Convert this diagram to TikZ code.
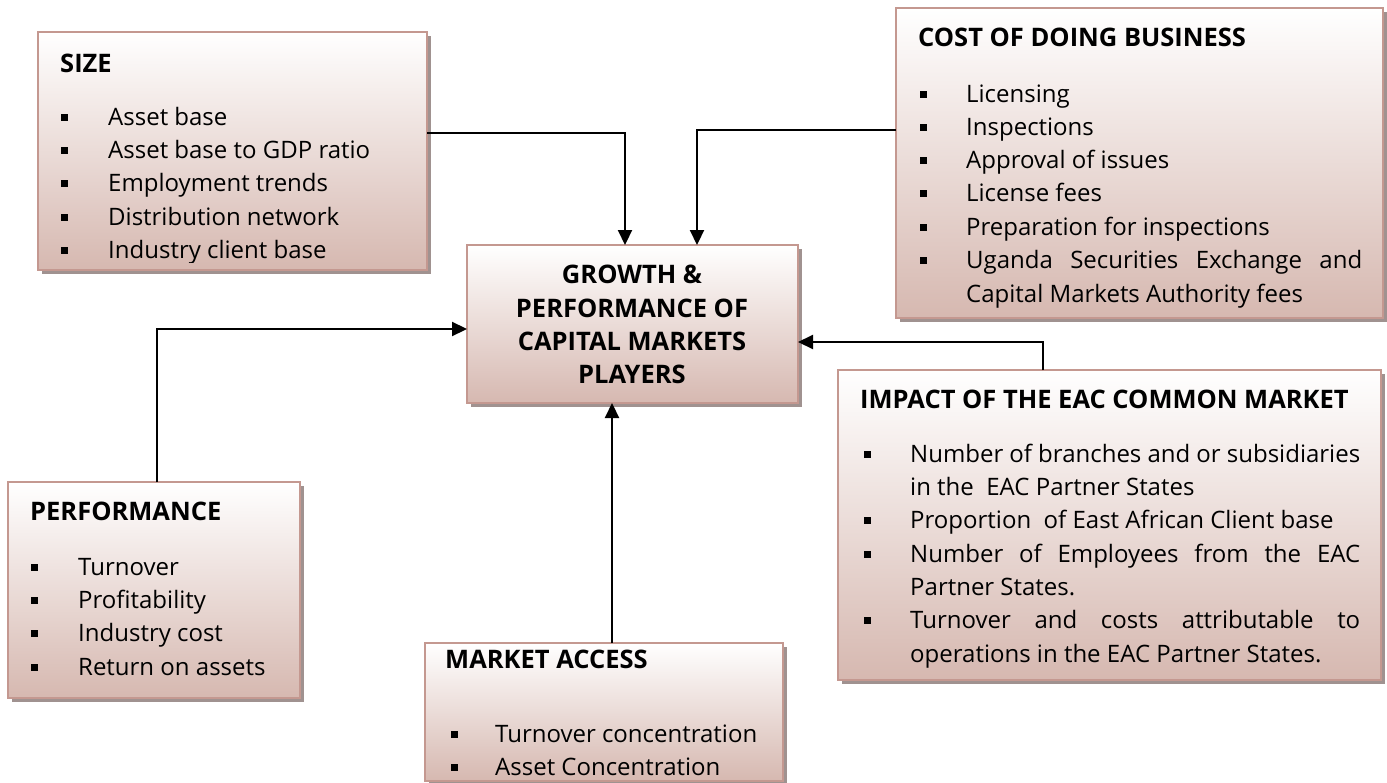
\documentclass[tikz,border=0pt]{standalone}
\usepackage{fontspec}
\setmainfont{Open Sans}
\usetikzlibrary{arrows.meta,shadows,calc}

\definecolor{cardline}{RGB}{196,152,144}
\definecolor{cardfill}{RGB}{214,184,176}
\definecolor{cardshade}{RGB}{160,146,144}

\newcommand\headfont{\bfseries\fontsize{25.5bp}{30bp}\selectfont}
\newcommand\itemfont{\fontsize{24bp}{30bp}\selectfont}

\tikzset{
  card/.style={draw=cardline, line width=1.8bp, top color=white, bottom color=cardfill,
    inner sep=0pt, outer sep=0pt, anchor=north west,
    drop shadow={shadow xshift=4bp, shadow yshift=-4bp, fill=cardshade, opacity=1}},
  head/.style={anchor=base west, inner sep=0pt, font=\headfont},
  title/.style={anchor=base, inner sep=0pt, font=\headfont},
  item/.style={anchor=base west, inner sep=0pt, font=\itemfont},
  dot/.style={fill=black, minimum size=7bp, inner sep=0pt, outer sep=0pt},
  conn/.style={line width=2.2bp, -{Triangle[length=15bp,width=14bp]}},
}

\begin{document}
\begin{tikzpicture}[x=1bp,y=-1bp]
\useasboundingbox (0,0) rectangle (1387,782);

% ---------- boxes ----------
\node[card, minimum width=389bp, minimum height=238bp] (size) at (38,32) {};
\node[card, minimum width=487bp, minimum height=310bp] (cost) at (896,8) {};
\node[card, minimum width=331bp, minimum height=158bp] (ctr)  at (467,245) {};
\node[card, minimum width=292bp, minimum height=216bp] (perf) at (8,482) {};
\node[card, minimum width=358bp, minimum height=138bp] (mkt)  at (425,643) {};
\node[card, minimum width=543bp, minimum height=310bp] (imp)  at (838,370) {};

% ---------- SIZE ----------
\node[head] (size-h) at (60,72) {SIZE};
\begin{scope}
  \clip (38,32) rectangle (427,262);
  \foreach \txt [count=\i] in {Asset base, Asset base to GDP ratio, Employment trends,
      Distribution network, Industry client base} {
    \node[item] (size-\i) at (108,{125+33.4*(\i-1)}) {\txt};
    \node[dot] (size-d\i) at (64,{125+33.4*(\i-1)-8}) {};
  }
\end{scope}

% ---------- COST OF DOING BUSINESS ----------
\node[head] (cost-h) at (918,47) {COST OF DOING BUSINESS};
\foreach \txt [count=\i] in {Licensing, Inspections, Approval of issues, License fees,
    Preparation for inspections} {
  \node[item] (cost-\i) at (966,{102+33.3*(\i-1)}) {\txt};
  \node[dot] (cost-d\i) at (923,{102+33.3*(\i-1)-8}) {};
}
\node[item] (cost-6) at (966,268) {\makebox[396bp][s]{Uganda Securities Exchange and}};
\node[dot] (cost-d6) at (923,260) {};
\node[item] (cost-7) at (966,302) {Capital Markets Authority fees};

% ---------- centre ----------
\node[title] (ctr-1) at (632,283) {GROWTH \&};
\node[title] (ctr-2) at (632,317) {PERFORMANCE OF};
\node[title] (ctr-3) at (632,350) {CAPITAL MARKETS};
\node[title] (ctr-4) at (632,383) {PLAYERS};

% ---------- PERFORMANCE ----------
\node[head] (perf-h) at (30,520) {PERFORMANCE};
\foreach \txt [count=\i] in {Turnover, Profitability, Industry cost, Return on assets} {
  \node[item] (perf-\i) at (78,{575+33.4*(\i-1)}) {\txt};
  \node[dot] (perf-d\i) at (34,{575+33.4*(\i-1)-8}) {};
}

% ---------- MARKET ACCESS ----------
\node[head] (mkt-h) at (445,668) {MARKET ACCESS};
\foreach \txt [count=\i] in {Turnover concentration, Asset Concentration} {
  \node[item] (mkt-\i) at (495,{742+33*(\i-1)}) {\txt};
  \node[dot] (mkt-d\i) at (454,{742+33*(\i-1)-8}) {};
}

% ---------- IMPACT OF THE EAC COMMON MARKET ----------
\node[head] (imp-h) at (860,408) {IMPACT OF THE EAC COMMON MARKET};
\node[item] (imp-1) at (910,462) {\makebox[450bp][s]{Number of branches and or subsidiaries}};
\node[item] (imp-2) at (910,495) {in the \ EAC Partner States};
\node[item] (imp-3) at (910,528) {Proportion \ of East African Client base};
\node[item] (imp-4) at (910,562) {\makebox[450bp][s]{Number of Employees from the EAC}};
\node[item] (imp-5) at (910,595) {Partner States.};
\node[item] (imp-6) at (910,628) {\makebox[450bp][s]{Turnover and costs attributable to}};
\node[item] (imp-7) at (910,662) {operations in the EAC Partner States.};
\foreach \y [count=\i] in {462,528,562,628}
  \node[dot] (imp-d\i) at (867,\y-8) {};

% ---------- connectors ----------
\draw[conn] ($(size.north east)+(0,101)$) -| ($(ctr.north west)+(158,0)$);
\draw[conn] ($(cost.north west)+(0,122)$) -| ($(ctr.north west)+(230,0)$);
\draw[conn] ($(perf.north west)+(149,0)$) |- ($(ctr.north west)+(0,84)$);
\draw[conn] ($(mkt.north west)+(187,0)$) -- ($(ctr.south west)+(145,0)$);
\draw[conn] ($(imp.north west)+(205,0)$) |- ($(ctr.north east)+(0,97)$);
\end{tikzpicture}
\end{document}
